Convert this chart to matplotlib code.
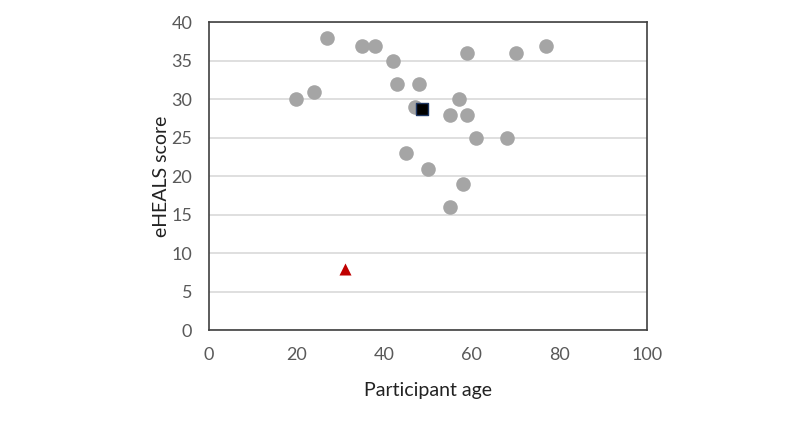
import matplotlib.pyplot as plt

plt.rcParams['font.family'] = ['Lato', 'DejaVu Sans']

# participants
age = [27, 35, 38, 42, 59, 43, 48, 20, 24, 47, 57, 55, 59, 61, 68, 45, 50, 58, 55, 70, 77]
score = [38, 37, 37, 35, 36, 32, 32, 30, 31, 29, 30, 28, 28, 25, 25, 23, 21, 19, 16, 36, 37]

# mean and outlier
mean_age = [48.7]
mean_score = [28.75]
out_age = [31]
out_score = [8]

fig = plt.figure(figsize=(8, 4.23), dpi=100)
ax = fig.add_axes([0.261, 0.219, 0.548, 0.728])

ax.scatter(age, score, s=110, color="#a5a5a5", zorder=3, linewidths=0)
ax.scatter(mean_age, mean_score, s=70, marker="s", color="black",
           edgecolors="#1f3864", linewidths=1, zorder=4)
ax.scatter(out_age, out_score, s=75, marker="^", color="#c00000",
           linewidths=0, zorder=4)

ax.set_xlim(0, 100)
ax.set_ylim(0, 40)
ax.set_xticks(range(0, 101, 20))
ax.set_yticks(range(0, 41, 5))
ax.yaxis.grid(True, color="#d9d9d9", linewidth=1.2)
ax.set_axisbelow(True)
ax.tick_params(length=0, labelsize=13, labelcolor="#595959")
ax.tick_params(axis="y", pad=12)
ax.tick_params(axis="x", pad=12)
for s in ax.spines.values():
    s.set_color("#404040")
    s.set_linewidth(1.2)

ax.set_xlabel("Participant age", fontsize=14, labelpad=14, color="#222222")
ax.set_ylabel("eHEALS score", fontsize=14, labelpad=1, color="#222222")

fig.savefig("out.png")
